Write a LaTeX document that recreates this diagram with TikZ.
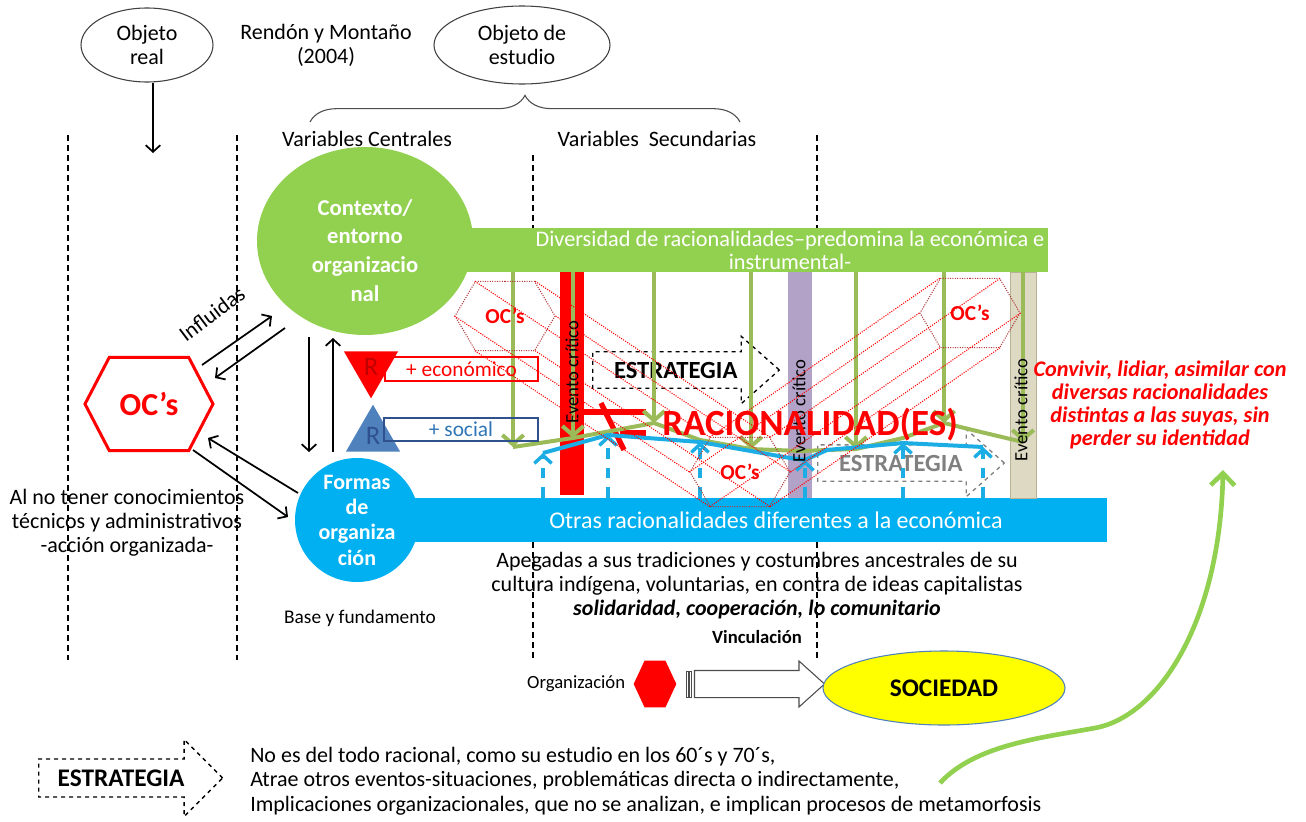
\documentclass[tikz,border=0pt]{standalone}
\usepackage{fontspec}
\setmainfont{Carlito}
\usepackage{tikz}
\usetikzlibrary{shapes.geometric, shapes.symbols, shapes.arrows, arrows.meta, positioning, decorations.pathreplacing, backgrounds, calc}

\definecolor{verde}{HTML}{92D050}
\definecolor{oliva}{HTML}{9BBB59}
\definecolor{azul}{HTML}{00B0F0}
\definecolor{celeste}{HTML}{1CADE4}
\definecolor{lila}{HTML}{B3A2C7}
\definecolor{beige}{HTML}{DDD9C3}
\definecolor{beigeosc}{HTML}{B8B294}
\definecolor{acero}{HTML}{4F81BD}
\definecolor{marino}{HTML}{2F528F}
\definecolor{azulsoc}{HTML}{2E75B6}
\definecolor{rojo}{HTML}{FF0000}
\definecolor{rojoosc}{HTML}{C00000}
\definecolor{granate}{HTML}{B03A3A}
\definecolor{amarillo}{HTML}{FFFF00}
\definecolor{gris}{HTML}{808080}

\tikzstyle{texto} = [align=center, inner sep=0pt, font=\fontsize{16.5}{18}\selectfont]
\tikzstyle{objeto} = [ellipse, draw=black!75, line width=0.8pt, align=center, inner sep=0pt, font=\fontsize{16.5}{18}\selectfont]
\tikzstyle{arrow} = [line width=1.3pt, ->, >={Straight Barb[length=5pt,width=11pt]}]
\tikzstyle{divisor} = [dash pattern=on 4.5pt off 3pt, line width=1pt]
\tikzstyle{barra} = [rectangle, inner sep=0pt, text=white, align=center, minimum height=33pt, font=\fontsize{16.7}{17.25}\selectfont]
\tikzstyle{circulo} = [text=white, align=center, inner sep=0pt, font=\bfseries\fontsize{17}{21.4}\selectfont]
\tikzstyle{evento} = [rectangle, inner sep=0pt, minimum width=18pt]
\tikzstyle{eventotxt} = [rotate=90, inner sep=0pt, font=\fontsize{14}{16}\selectfont]
\tikzstyle{estrategia} = [single arrow, draw, dashed, line width=1pt, fill=white, single arrow head extend=11.6pt, single arrow tip angle=83, minimum height=140pt, inner ysep=7pt, font=\bfseries\fontsize{18.5}{20}\selectfont]
\tikzstyle{hexa} = [signal, signal to=east and west, inner sep=0pt]
\tikzstyle{ocpunto} = [hexa, signal pointer angle=119, draw=granate, densely dotted, line width=0.8pt, minimum width=75pt, minimum height=52pt, text=rojo, font=\bfseries\fontsize{16}{18}\selectfont]
\tikzstyle{punteada} = [densely dotted, rojo, line width=0.8pt]
\tikzstyle{verdeflecha} = [oliva, line width=3pt, -{Straight Barb[length=7pt,width=16pt]}]
\tikzstyle{azulflecha} = [celeste, line width=2.6pt, dash pattern=on 8pt off 6.5pt, -{Straight Barb[length=6pt,width=13pt]}]

\begin{document}
\begin{tikzpicture}[x=0.75pt, y=-0.75pt]
  \useasboundingbox (0,0) rectangle (1306,821);

  % Líneas divisorias
  \draw[divisor] (68,135) -- (68,660);
  \draw[divisor] (237,135) -- (237,660);
  \draw[divisor] (533,155) -- (533,228);
  \draw[divisor] (533,542) -- (533,660);
  \draw[divisor] (817,135) -- (817,228);
  \draw[divisor] (817,542) -- (817,660);

  % Fila superior
  \node[objeto, minimum width=99pt, minimum height=55.5pt] (real) at (147,45) {Objeto\\real};
  \node[texto] (rendon) at (326,45) {Rendón y Montaño\\(2004)};
  \node[objeto, minimum width=132pt, minimum height=58.5pt] (estudio) at (522,45) {Objeto de\\estudio};
  \coordinate (realfin) at (153,153);
  \draw[arrow] ([xshift=4.5pt]real.south) -- (realfin);

  % Llave y variables
  \draw[decorate, decoration={brace, amplitude=20pt}, line width=0.8pt, black!70] (310,122) -- (740,122);
  \node[texto] (centrales) at (367,139) {Variables Centrales};
  \node[texto] (secundarias) at (657,139) {Variables\ \ Secundarias};

  % Barras
  \node[barra, fill=verde, minimum width=387pt] (diversidad) at (790,250) {Diversidad de racionalidades–predomina la económica e\\instrumental-};
  \node[barra, fill=azul, minimum width=496.5pt, font=\fontsize{18}{20}\selectfont] (otras) at (776,520) {Otras racionalidades diferentes a la económica};

  % Círculos
  \node[circulo, ellipse, fill=verde, minimum width=162pt, minimum height=141pt] (contexto) at (365,241) {\rule{0pt}{26pt}Contexto/\\entorno\\organizacio\\nal};
  \node[circulo, circle, fill=azul, minimum size=93pt, inner sep=-3pt, font=\bfseries\fontsize{16.5}{19}\selectfont] (formas) at (357,520) {Formas\\de\\organiza\\ción};
  \begin{scope}[on background layer]
    \fill[verde] (contexto.center |- diversidad.north) rectangle (diversidad.south west);
    \fill[azul] (formas.center |- otras.north) rectangle (otras.south west);
  \end{scope}

  % Eventos críticos
  \node[evento, fill=rojo, minimum height=167.25pt] (ev1) at (572,383.5) {};
  \node[evento, fill=lila, minimum height=169.5pt] (ev2) at (800,385) {};
  \node[evento, fill=beige, draw=beigeosc, minimum width=19.5pt, minimum height=169.5pt] (ev3) at (1023,385) {};

  % Estrategias
  \node[estrategia, anchor=tail] (estr1) at (592,370) {ESTRATEGIA};
  \node[estrategia, anchor=tail, draw=gris, text=gris] (estr2) at (817,463) {ESTRATEGIA};

  % Ruptura
  \draw[rojo, line width=4pt] (584,412) -- (646,412);
  \draw[rojo, line width=4pt] (620,433) -- (646,433);
  \draw[rojo, line width=4pt] (601,403) -- (624,450);

  % Línea verde
  \coordinate (g1) at (513,447);
  \coordinate (g2) at (573,438);
  \coordinate (g3) at (654,423);
  \coordinate (g4) at (700,440);
  \coordinate (g5) at (751,449);
  \coordinate (g6) at (800,451);
  \coordinate (g7) at (856,449);
  \coordinate (g8) at (903,438);
  \coordinate (g9) at (944,423);
  \coordinate (g10) at (985,433);
  \coordinate (g11) at (1023,442);
  \draw[oliva, line width=3pt, line join=round] (g1) -- (g2) -- (g3) -- (g4) -- (g5) -- (g6) -- (g7) -- (g8) -- (g9) -- (g10) -- (g11);
  \foreach \g in {g1,g2,g3,g5,g7,g9,g11}
    \draw[verdeflecha] (\g |- diversidad.south) -- (\g);

  % Línea azul
  \coordinate (b1) at (543,453);
  \coordinate (b2) at (608,435);
  \coordinate (b3) at (700,442);
  \coordinate (b4) at (790,458);
  \coordinate (b5) at (805,460);
  \coordinate (b6) at (827,450);
  \coordinate (b7) at (903,443);
  \coordinate (b8) at (983,447);
  \draw[celeste, line width=3pt, line join=round] (b1) -- (b2) -- (b3) -- (b4) -- (b5) -- (b6) -- (b7) -- (b8);
  \foreach \b in {b1,b2,b3,b5,b7,b8}
    \draw[azulflecha] (\b |- otras.north) -- (\b);

  \node[eventotxt] (ev1txt) at (572,372) {Evento crítico};
  \node[eventotxt] (ev2txt) at (799,411) {Evento crítico};
  \node[eventotxt] (ev3txt) at (1021,410) {Evento crítico};

  % Hexágonos punteados
  \node[ocpunto] (h1) at (505,316) {OC’s};
  \node[ocpunto] (h3) at (740,472) {OC’s};
  \node[ocpunto] (h2) at (970,313) {OC’s};
  \foreach \a in {0,49,131,180,229,311} {
    \draw[punteada] (h1.\a) -- (h3.\a);
    \draw[punteada] (h3.\a) -- (h2.\a);
  }

  \node[texto, text=rojo, font=\bfseries\fontsize{27.7}{30}\selectfont] (racionalidad) at (810,425) {RACIONALIDAD(ES)};

  % Racionalidades
  \node[regular polygon, regular polygon sides=3, shape border rotate=180, fill=rojo, minimum size=47pt, inner sep=0pt, text=rojoosc, font=\fontsize{20}{22}\selectfont] (reco) at (371,367) {R};
  \node[regular polygon, regular polygon sides=3, fill=acero, minimum size=47pt, inner sep=0pt, text=marino, font=\fontsize{20}{22}\selectfont] (rsoc) at (373,436) {R};
  \node[draw=rojo, line width=1.1pt, text=rojo, minimum width=115pt, minimum height=18pt, inner sep=0pt, font=\fontsize{16}{18}\selectfont] (econ) at (461.5,369) {+ económico};
  \node[draw=marino, line width=1.1pt, text=azulsoc, minimum width=115.5pt, minimum height=17.25pt, inner sep=0pt, font=\fontsize{16}{18}\selectfont] (social) at (461,429.5) {+ social};

  % OC's y flechas
  \node[hexa, signal pointer angle=125, draw=rojo, line width=2.25pt, minimum width=96pt, minimum height=70pt, text=rojo, font=\bfseries\fontsize{24}{26}\selectfont] (ocs) at (149,404) {OC’s};
  \draw[arrow] ([shift={(53,-39)}]ocs.center) -- ([shift={(-93,75)}]contexto.center);
  \draw[arrow] ([shift={(-80,87)}]contexto.center) -- ([shift={(66,-26)}]ocs.center);
  \draw[arrow] ([shift={(44,46)}]ocs.center) -- ([shift={(-69,-3)}]formas.center);
  \draw[arrow] ([shift={(-59,-27)}]formas.center) -- ([shift={(59,34)}]ocs.center);
  \node[texto, rotate=37] (influidas) at (212,314) {Influidas};
  \draw[arrow] ([shift={(-56,96)}]contexto.center) -- ([shift={(-48,-68)}]formas.center);
  \draw[arrow] ([shift={(-24,-68)}]formas.center) -- ([shift={(-32,97)}]contexto.center);

  % Textos
  \node[texto] (alno) at (127,523) {Al no tener conocimientos\\técnicos y administrativos\\-acción organizada-};
  \node[texto, font=\fontsize{14.5}{16}\selectfont] (base) at (360,618) {Base y fundamento};
  \node[texto, font=\fontsize{16.5}{18}\selectfont] (apegadas) at (757,586) {Apegadas a sus tradiciones y costumbres ancestrales de su\\cultura indígena, voluntarias, en contra de ideas capitalistas\\\textbf{\textit{solidaridad, cooperación, lo comunitario}}};
  \node[texto, font=\bfseries\fontsize{14}{16}\selectfont] (vinculacion) at (757,637) {Vinculación};
  \node[texto, text=rojo, font=\bfseries\itshape\fontsize{16.7}{17.25}\selectfont] (convivir) at (1160,405) {Convivir, lidiar, asimilar con\\diversas racionalidades\\distintas a las suyas, sin\\perder su identidad};

  % Organización - Sociedad
  \node[hexa, signal pointer angle=130, fill=rojo, minimum width=32pt, minimum height=35pt] (orghex) at (655,684) {};
  \node[texto, font=\fontsize{14}{16}\selectfont, left=6pt of orghex] (organizacion) {Organización};
  \node[single arrow, draw=black!70, line width=0.8pt, fill=white, minimum height=97.5pt, inner ysep=9.75pt, inner xsep=0pt, single arrow head extend=7.1pt, single arrow tip angle=84, right=13pt of orghex] (flecha) {};
  \draw[black!70, line width=0.6pt] ([shift={(-8,-13)}]flecha.west) rectangle ([shift={(-6,13)}]flecha.west);
  \draw[black!70, line width=0.6pt] ([shift={(-5,-13)}]flecha.west) rectangle ([shift={(-3,13)}]flecha.west);
  \node[ellipse, draw=acero, fill=amarillo, line width=0.8pt, minimum width=181.5pt, minimum height=55.5pt, font=\bfseries\fontsize{19}{21}\selectfont] (sociedad) at (944,688) {SOCIEDAD};

  % Nota inferior
  \node[estrategia, anchor=tail, minimum height=138pt, single arrow head extend=14.6pt, single arrow tip angle=90, inner ysep=7.5pt, font=\bfseries\fontsize{19}{21}\selectfont] (estr3) at (38,778) {ESTRATEGIA};
  \node[texto, anchor=west, align=left, font=\fontsize{16.5}{18.4}\selectfont] (notas) at (250,781) {No es del todo racional, como su estudio en los 60´s y 70´s,\\Atrae otros eventos-situaciones, problemáticas directa o indirectamente,\\Implicaciones organizacionales, que no se analizan, e implican procesos de metamorfosis};
  \coordinate (inicio) at (940,783);
  \draw[verde, line width=3.5pt, -{Straight Barb[length=9pt,width=18pt]}] (inicio) .. controls (975,745) and (1040,738) .. (1095,728) .. controls (1160,716) and (1220,620) .. ([shift={(63,65)}]convivir.center);
\end{tikzpicture}
\end{document}
